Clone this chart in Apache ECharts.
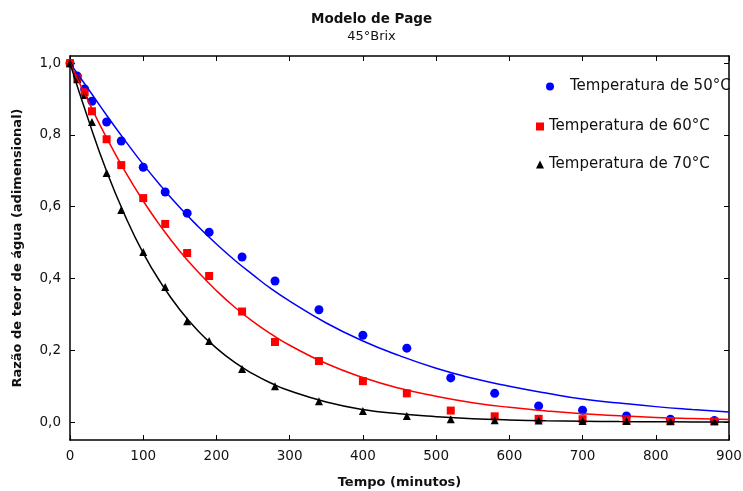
<!DOCTYPE html>
<html>
<head>
<meta charset="utf-8">
<script src="https://cdn.jsdelivr.net/npm/echarts@6/dist/echarts.min.js"></script>
<style>
  html, body { margin: 0; padding: 0; background: #fff; }
  #chart { width: 743px; height: 491px; }
</style>
</head>
<body>
<div id="chart"></div>
<script>
// tempos de medição (minutos)
var tempos = [0, 10, 20, 30, 50, 70, 100, 130, 160, 190, 235, 280, 340, 400, 460, 520, 580, 640, 700, 760, 820, 880];

// razão de teor de água observada
var obs50 = [1.0, 0.964, 0.928, 0.894, 0.836, 0.783, 0.710, 0.641, 0.582, 0.529, 0.460, 0.393, 0.313, 0.242, 0.206, 0.123, 0.080, 0.045, 0.033, 0.017, 0.008, 0.004];
var obs60 = [1.0, 0.958, 0.919, 0.866, 0.788, 0.716, 0.624, 0.552, 0.471, 0.407, 0.308, 0.223, 0.170, 0.114, 0.080, 0.032, 0.016, 0.009, 0.008, 0.003, 0.003, 0.002];
var obs70 = [1.0, 0.955, 0.911, 0.836, 0.694, 0.591, 0.474, 0.376, 0.281, 0.226, 0.148, 0.100, 0.058, 0.031, 0.017, 0.008, 0.005, 0.004, 0.003, 0.003, 0.002, 0.002];

// curvas ajustadas
var temposAjuste = [0, 25, 50, 75, 100, 125, 150, 175, 200, 225, 250, 275, 300, 350, 400, 450, 500, 550, 600, 650, 700, 750, 800, 850, 900];
var ajuste50 = [1.0, 0.928, 0.855, 0.785, 0.718, 0.656, 0.598, 0.545, 0.496, 0.451, 0.41, 0.371, 0.337, 0.276, 0.226, 0.185, 0.15, 0.122, 0.10, 0.081, 0.064, 0.053, 0.043, 0.035, 0.028];
var ajuste60 = [1.0, 0.894, 0.792, 0.699, 0.616, 0.542, 0.476, 0.418, 0.366, 0.320, 0.280, 0.245, 0.214, 0.163, 0.124, 0.094, 0.072, 0.054, 0.041, 0.031, 0.023, 0.0175, 0.013, 0.0099, 0.0074];
var ajuste70 = [1.0, 0.843, 0.699, 0.576, 0.471, 0.385, 0.313, 0.254, 0.206, 0.166, 0.134, 0.108, 0.087, 0.056, 0.035, 0.023, 0.015, 0.0093, 0.006, 0.0037, 0.0023, 0.0014, 0.0009, 0.0005, 0.0004];

var yTicks = [0, 0.2, 0.4, 0.6, 0.8, 1.0];

function pares(xs, ys) {
  return xs.map(function (x, i) { return [x, ys[i]]; });
}

var fonte = 'DejaVu Sans';
var preto = '#000';
var texto = '#111';

var chart = echarts.init(document.getElementById('chart'));

function eixoX(pos, mostrar) {
  return {
    type: 'value', position: pos, min: 0, max: 900, interval: 100,
    axisLine: { show: true, onZero: false, lineStyle: { color: preto, width: 1.5 } },
    axisTick: { show: true, inside: true, length: 5, lineStyle: { color: preto, width: 1 } },
    axisLabel: { show: mostrar, fontFamily: fonte, fontSize: 13.5, color: texto, margin: 9 },
    splitLine: { show: false }
  };
}
function eixoY(pos, mostrar) {
  return {
    type: 'value', position: pos, min: -0.05, max: 1.02,
    axisLine: { show: true, onZero: false, lineStyle: { color: preto, width: 1.5 } },
    axisTick: { show: true, inside: true, length: 5, customValues: yTicks, lineStyle: { color: preto, width: 1 } },
    axisLabel: {
      show: mostrar, customValues: yTicks, fontFamily: fonte, fontSize: 13.5, color: texto, margin: 9,
      formatter: function (v) { return v.toFixed(1).replace('.', ','); }
    },
    splitLine: { show: false }
  };
}

var xBaixo = eixoX('bottom', true);
xBaixo.name = 'Tempo (minutos)';
xBaixo.nameLocation = 'middle';
xBaixo.nameGap = 36;
xBaixo.nameTextStyle = { fontFamily: fonte, fontWeight: 'bold', fontSize: 13, color: texto };

var yEsq = eixoY('left', true);
yEsq.name = 'Razão de teor de água (adimensional)';
yEsq.nameLocation = 'middle';
yEsq.nameGap = 46;
yEsq.nameTextStyle = { fontFamily: fonte, fontWeight: 'bold', fontSize: 13, color: texto };

function legenda(nome, left, top, pad) {
  return {
    data: [nome], left: left, top: top, orient: 'vertical',
    itemWidth: 8, itemHeight: 8, itemGap: 0,
    textStyle: { fontFamily: fonte, fontSize: 15, color: texto, padding: [0, 0, 0, pad] },
    selectedMode: false
  };
}

chart.setOption({
  animation: false,
  title: {
    text: 'Modelo de Page',
    subtext: '45°Brix',
    left: 'center', top: 7, itemGap: 4,
    textStyle: { fontFamily: fonte, fontWeight: 'bold', fontSize: 13.5, color: texto },
    subtextStyle: { fontFamily: fonte, fontSize: 13, color: texto }
  },
  grid: { left: 70, right: 14, top: 56, bottom: 51, outerBoundsMode: 'none' },
  legend: [
    legenda('Temperatura de 50°C', 541, 74, 11),
    legenda('Temperatura de 60°C', 531, 114, 0),
    legenda('Temperatura de 70°C', 531, 152, 0)
  ],
  xAxis: [xBaixo, eixoX('top', false)],
  yAxis: [yEsq, eixoY('right', false)],
  series: [
    { name: 'Ajuste 50°C', type: 'line', data: pares(temposAjuste, ajuste50), smooth: true, showSymbol: false,
      lineStyle: { color: '#0000ff', width: 1.5 }, itemStyle: { color: '#0000ff' } },
    { name: 'Ajuste 60°C', type: 'line', data: pares(temposAjuste, ajuste60), smooth: true, showSymbol: false,
      lineStyle: { color: '#ff0000', width: 1.5 }, itemStyle: { color: '#ff0000' } },
    { name: 'Ajuste 70°C', type: 'line', data: pares(temposAjuste, ajuste70), smooth: true, showSymbol: false,
      lineStyle: { color: '#000000', width: 1.5 }, itemStyle: { color: '#000000' } },
    { name: 'Temperatura de 50°C', type: 'scatter', symbol: 'circle', symbolSize: 9,
      data: pares(tempos, obs50), itemStyle: { color: '#0000ff', opacity: 1 } },
    { name: 'Temperatura de 60°C', type: 'scatter', symbol: 'rect', symbolSize: 8,
      data: pares(tempos, obs60), itemStyle: { color: '#ff0000', opacity: 1 } },
    { name: 'Temperatura de 70°C', type: 'scatter', symbol: 'triangle', symbolSize: 8,
      data: pares(tempos, obs70), itemStyle: { color: '#000000', opacity: 1 } }
  ]
});

window.addEventListener('resize', function () {
  chart.resize();
});
</script>
</body>
</html>
